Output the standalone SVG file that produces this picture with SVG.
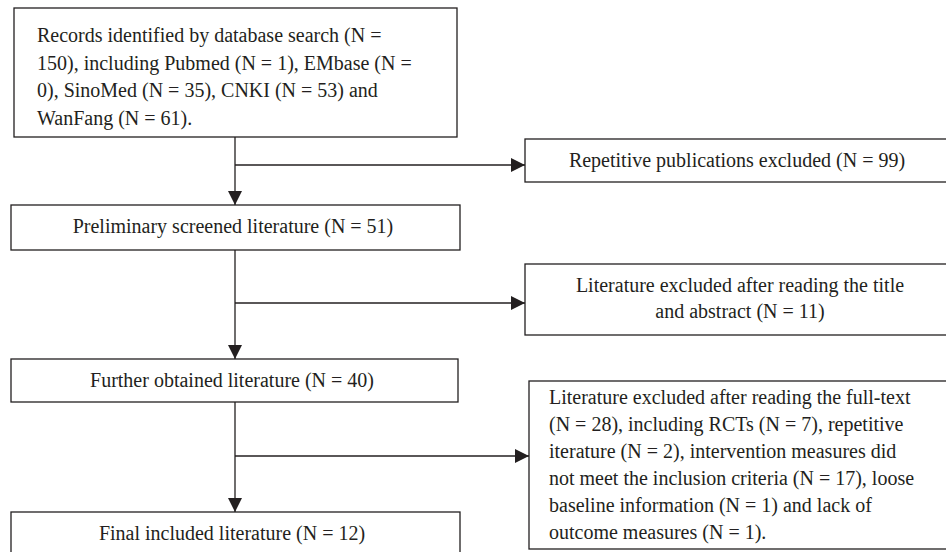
<svg xmlns="http://www.w3.org/2000/svg" width="946" height="552" viewBox="0 0 946 552">
<style>
.box{fill:#fff;stroke:#231f20;stroke-width:1.3}
.t{font-family:"Liberation Serif","Times New Roman",serif;font-size:20px;fill:#231f20}
.c{text-anchor:middle}
.ln{fill:none;stroke:#231f20;stroke-width:1.3}
</style>
<defs>
<marker id="ah" markerUnits="userSpaceOnUse" markerWidth="14" markerHeight="14" refX="14" refY="7" orient="auto">
<path d="M0,0 L14,7 L0,14 Z" fill="#231f20"/>
</marker>
</defs>
<rect width="946" height="552" fill="#fff"/>
<g id="connectors">
<path class="ln" d="M235,137 V205" marker-end="url(#ah)"/>
<path class="ln" d="M235,165 H525" marker-end="url(#ah)"/>
<path class="ln" d="M235,250 V359" marker-end="url(#ah)"/>
<path class="ln" d="M235,303 H525" marker-end="url(#ah)"/>
<path class="ln" d="M235,402 V512" marker-end="url(#ah)"/>
<path class="ln" d="M235,456 H529" marker-end="url(#ah)"/>
</g>
<g id="records">
<rect class="box" x="14" y="8" width="443" height="129"/>
<text class="t" x="37" y="42">Records identified by database search (N =</text>
<text class="t" x="37" y="69.5">150), including Pubmed (N = 1), EMbase (N =</text>
<text class="t" x="37" y="97">0), SinoMed (N = 35), CNKI (N = 53) and</text>
<text class="t" x="37" y="124.5">WanFang (N = 61).</text>
</g>
<g id="repetitive">
<rect class="box" x="525" y="139" width="424" height="43"/>
<text class="t c" x="737" y="167">Repetitive publications excluded (N = 99)</text>
</g>
<g id="preliminary">
<rect class="box" x="11" y="205" width="449" height="45"/>
<text class="t c" x="233" y="233">Preliminary screened literature (N = 51)</text>
</g>
<g id="title-abstract">
<rect class="box" x="525" y="264" width="424" height="71"/>
<text class="t c" x="740" y="292">Literature excluded after reading the title</text>
<text class="t c" x="740" y="318">and abstract (N = 11)</text>
</g>
<g id="further">
<rect class="box" x="11" y="359" width="447" height="43"/>
<text class="t c" x="232" y="387">Further obtained literature (N = 40)</text>
</g>
<g id="fulltext">
<rect class="box" x="529" y="381" width="420" height="168"/>
<text class="t" x="549" y="404">Literature excluded after reading the full-text</text>
<text class="t" x="549" y="431">(N = 28), including RCTs (N = 7), repetitive</text>
<text class="t" x="549" y="458">iterature (N = 2), intervention measures did</text>
<text class="t" x="549" y="485">not meet the inclusion criteria (N = 17), loose</text>
<text class="t" x="549" y="512">baseline information (N = 1) and lack of</text>
<text class="t" x="549" y="539">outcome measures (N = 1).</text>
</g>
<g id="final">
<rect class="box" x="11" y="512" width="449" height="50"/>
<text class="t c" x="232" y="540">Final included literature (N = 12)</text>
</g>
</svg>
